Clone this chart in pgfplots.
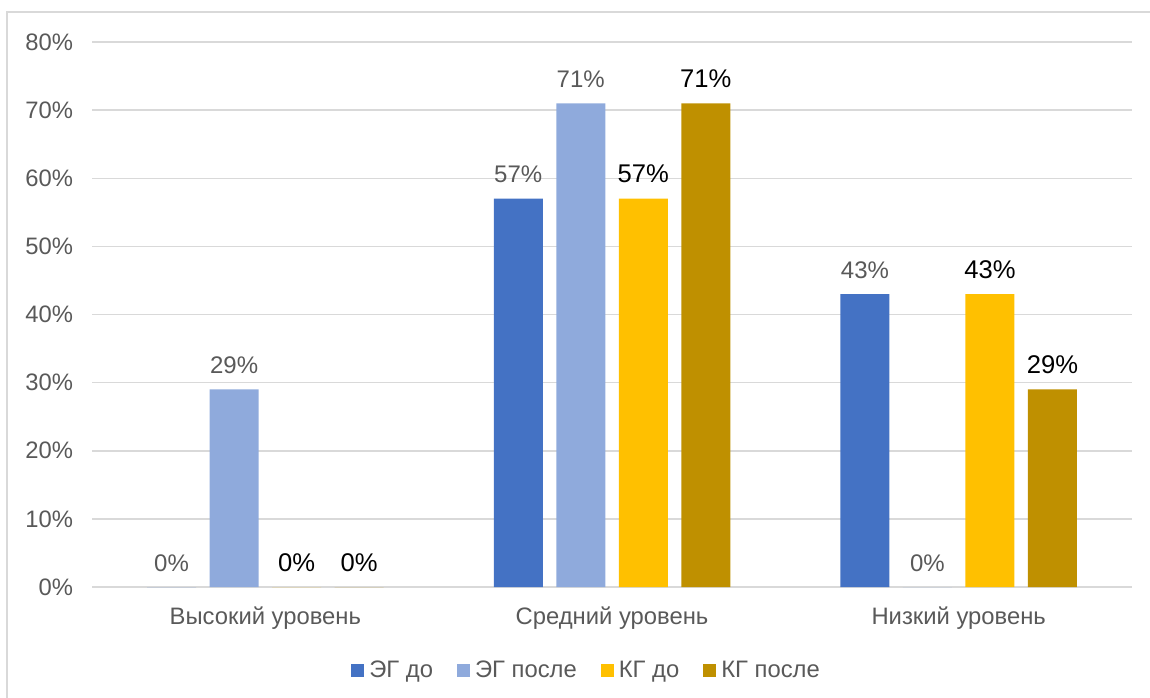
\documentclass[border=0pt]{standalone}
\usepackage{pgfplots}
\pgfplotsset{compat=1.18}
\usepackage{fontspec}
\setmainfont{Liberation Sans}

\definecolor{egdo}{HTML}{4472C4}
\definecolor{egposle}{HTML}{8FAADC}
\definecolor{kgdo}{HTML}{FFC000}
\definecolor{kgposle}{HTML}{BF9000}
\definecolor{gridc}{HTML}{D9D9D9}
\definecolor{textc}{HTML}{595959}

\newcommand{\ticksize}{\fontsize{11.9}{14}\selectfont}
\newcommand{\greysize}{\fontsize{12}{14}\selectfont}
\newcommand{\blacksize}{\fontsize{12.8}{15}\selectfont}

\begin{document}
\begin{tikzpicture}
\path[use as bounding box] (0,0) rectangle (575pt,348.5pt);
\draw[gridc, line width=0.75pt] (3.5pt,-2pt) -- (3.5pt,342.5pt) -- (580pt,342.5pt);
\begin{axis}[
  at={(46pt,55pt)}, anchor=south west,
  scale only axis, width=520pt, height=272.5pt,
  xmin=-0.5, xmax=2.5, ymin=0, ymax=80,
  xtick={0,1,2}, ytick={0,10,...,80},
  xticklabels={Высокий уровень, Средний уровень, Низкий уровень},
  yticklabel={\pgfmathprintnumber{\tick}\%},
  /pgf/number format/assume math mode=true,
  ybar=6.75pt, bar width=24.5pt,
  axis line style={draw=none}, major tick length=0pt,
  ymajorgrids, grid style={gridc, line width=0.75pt},
  yticklabel style={font=\ticksize, text=textc, xshift=-6pt},
  xticklabel style={font=\ticksize, text=textc, yshift=-6.5pt},
  nodes near coords={\pgfmathprintnumber{\pgfplotspointmeta}\%},
  every node near coord/.append style={anchor=base, inner sep=0pt, yshift=8pt},
  legend columns=-1,
  legend style={at={(0.477,-0.153)}, anchor=center, draw=none, fill=none,
    font=\ticksize, text=textc, nodes={inner sep=2.5pt},
    /tikz/every odd column/.append style={column sep=0pt},
    /tikz/every even column/.append style={column sep=9.5pt}},
  legend image code/.code={\fill[#1] (0pt,-3.25pt) rectangle (6.5pt,3.25pt);},
]
\addplot[fill=egdo, draw=none, every node near coord/.append style={font=\greysize, text=textc}]
  coordinates {(0,0) (1,57) (2,43)};
\addplot[fill=egposle, draw=none, every node near coord/.append style={font=\greysize, text=textc}]
  coordinates {(0,29) (1,71) (2,0)};
\addplot[fill=kgdo, draw=none, every node near coord/.append style={font=\blacksize, text=black}]
  coordinates {(0,0) (1,57) (2,43)};
\addplot[fill=kgposle, draw=none, every node near coord/.append style={font=\blacksize, text=black}]
  coordinates {(0,0) (1,71) (2,29)};
\legend{ЭГ до, ЭГ после, КГ до, КГ после}
\end{axis}
\end{tikzpicture}
\end{document}
